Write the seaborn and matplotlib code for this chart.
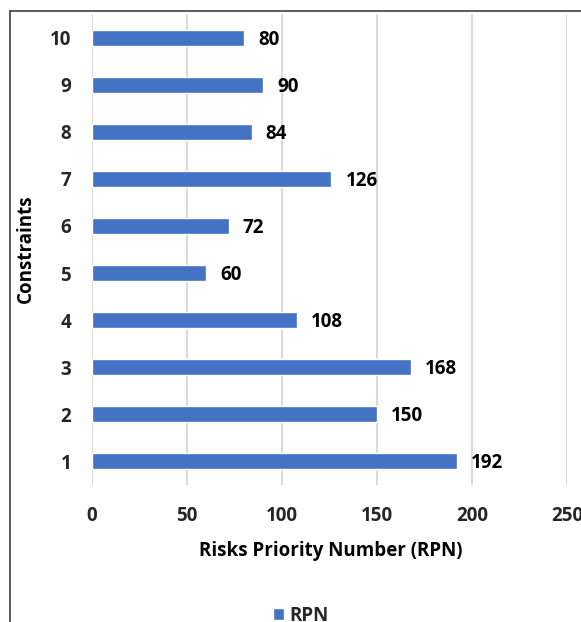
import matplotlib
matplotlib.use("Agg")
import matplotlib.pyplot as plt
from matplotlib.lines import Line2D
from matplotlib.patches import Patch
import seaborn as sns
import pandas as pd

constraints = ["1", "2", "3", "4", "5", "6", "7", "8", "9", "10"]
rpn = [192, 150, 168, 108, 60, 72, 126, 84, 90, 80]
x_ticks = [0, 50, 100, 150, 200, 250]

BAR_COLOR = "#4472C4"
FONT = ["Open Sans", "DejaVu Sans"]
FS = 13.5

sns.set_theme(style="white")
plt.rcParams["font.family"] = FONT
plt.rcParams["font.weight"] = "bold"

df = pd.DataFrame({"Constraint": constraints, "RPN": rpn})
order = constraints[::-1]

W, H = 581, 622
fig = plt.figure(figsize=(W / 100, H / 100), dpi=100)
ax = fig.add_axes([92 / W, 1 - 485 / H, (567 - 92) / W, (485 - 14) / H])

sns.barplot(data=df, x="RPN", y="Constraint", order=order, orient="h",
            color=BAR_COLOR, width=0.34, saturation=1, ax=ax, zorder=3)

ax.set_xlim(0, 250)
ax.set_xticks(x_ticks)
ax.set_xticklabels([str(t) for t in x_ticks], fontsize=FS, fontweight="bold")
ax.tick_params(axis="x", length=0, pad=15)
ax.tick_params(axis="y", length=0, pad=15)
for lbl in ax.get_yticklabels():
    lbl.set_fontsize(FS)
    lbl.set_fontweight("bold")

ax.grid(axis="x", color="#D9D9D9", linewidth=1.4, zorder=0)
ax.grid(axis="y", visible=False)
for s in ax.spines.values():
    s.set_visible(False)

ax.set_xlabel("")
ax.set_ylabel("")
fig.text(331 / W, 1 - 551 / H, "Risks Priority Number (RPN)", fontsize=FS,
         fontweight="bold", ha="center", va="center", color="black")
fig.text(26 / W, 1 - 249 / H, "Constraints", fontsize=FS, fontweight="bold",
         ha="center", va="center", rotation=90, color="black")

# value labels to the right of each bar
for cat, val in zip(constraints, rpn):
    ax.annotate(str(val), xy=(val, order.index(cat)), xytext=(14, -2),
                textcoords="offset pixels", va="center", ha="left",
                fontsize=FS, fontweight="bold", color="black")

# chart frame (left and top edges)
fig.add_artist(Line2D([10 / W, 10 / W], [0, 1 - 11 / H], transform=fig.transFigure,
                      color="#404040", linewidth=1.2))
fig.add_artist(Line2D([10 / W, 1], [1 - 11 / H, 1 - 11 / H], transform=fig.transFigure,
                      color="#404040", linewidth=1.2))

fig.legend(handles=[Patch(facecolor=BAR_COLOR, label="RPN")], loc="center",
           bbox_to_anchor=(301 / W, 1 - 616 / H), frameon=False,
           handlelength=0.6, handleheight=0.6, handletextpad=0.3,
           borderpad=0, prop={"weight": "bold", "size": FS})

fig.savefig("out.png", dpi=100)
